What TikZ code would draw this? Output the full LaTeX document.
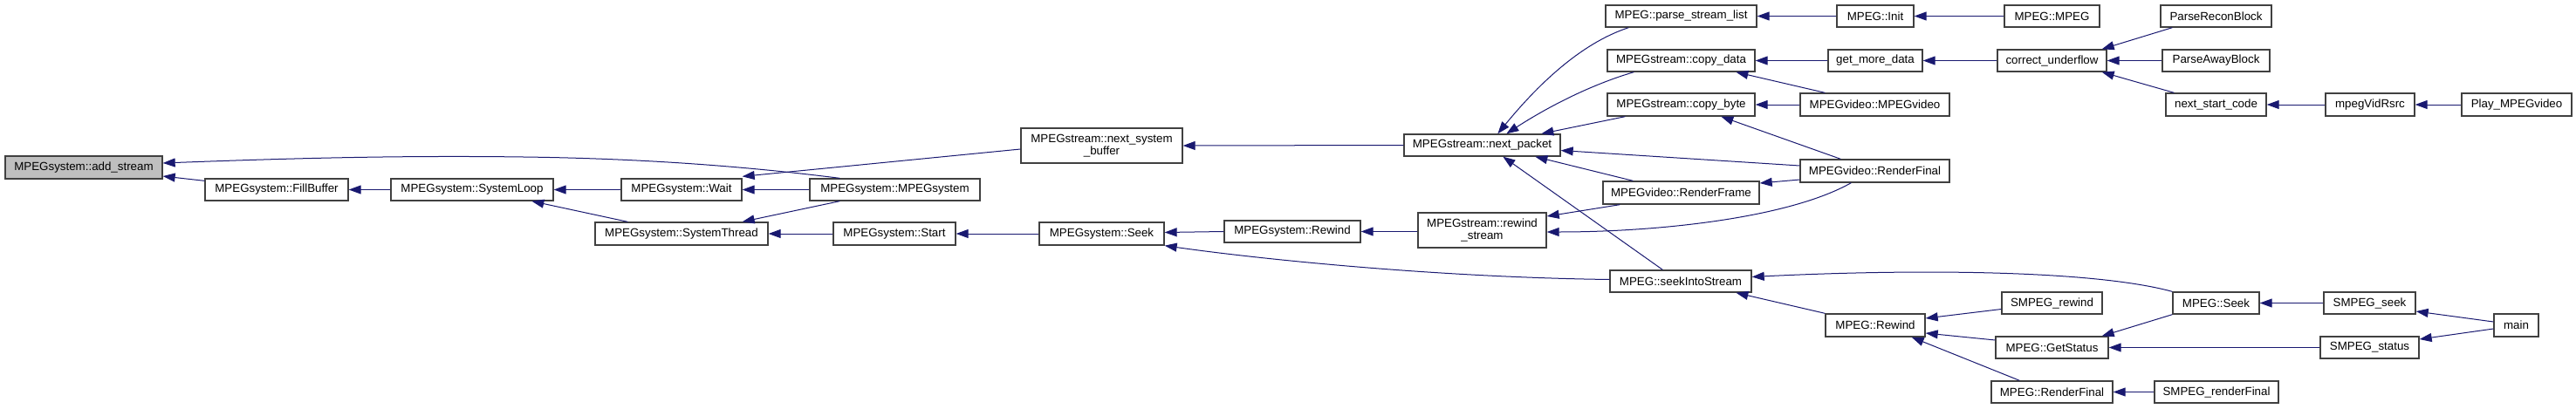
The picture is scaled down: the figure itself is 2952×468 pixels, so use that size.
\documentclass[tikz,border=0pt]{standalone}
\usepackage{fontspec}
\setmainfont{Liberation Sans}
\usetikzlibrary{arrows.meta,calc}
\definecolor{edgec}{HTML}{191970}
\definecolor{boxc}{HTML}{404040}
\newcommand{\cgbox}[7][]{\node[box,#1,minimum width={(#5-#3)*0.75pt},minimum height={(#6-#4)*0.75pt}] (#2) at ({(#3+#5)/2},{(#4+#6)/2}) {#7};}
\begin{document}
\begin{tikzpicture}[x=0.75pt,y=-0.75pt,
  box/.style={draw=boxc,line width=1pt,fill=white,inner sep=0pt,align=center,font=\fontsize{10}{10.5}\selectfont},
  root/.style={fill=black!25},
  cl/.style={draw=edgec,line width=0.75pt,{Triangle[length=10.5pt,width=7.5pt]}-}]
\useasboundingbox (0,0) rectangle (2952,468);
% nodes
\cgbox[root]{addst}{6}{179}{186}{205}{MPEGsystem::add\_stream}
\cgbox{fill}{235}{205}{399}{230}{MPEGsystem::FillBuffer}
\cgbox{sysloop}{448}{205}{634}{230}{MPEGsystem::SystemLoop}
\cgbox{wait}{712}{205}{850}{230}{MPEGsystem::Wait}
\cgbox{msys}{928}{205}{1123}{230}{MPEGsystem::MPEGsystem}
\cgbox{systhr}{682}{255}{880}{281}{MPEGsystem::SystemThread}
\cgbox{start}{955}{255}{1095}{281}{MPEGsystem::Start}
\cgbox{nsb}{1170}{147}{1355}{187}{MPEGstream::next\_system\\\_buffer}
\cgbox{sseek}{1191}{255}{1334}{281}{MPEGsystem::Seek}
\cgbox{srew}{1403}{253}{1559}{278}{MPEGsystem::Rewind}
\cgbox{npk}{1609}{154}{1788}{179}{MPEGstream::next\_packet}
\cgbox{rws}{1625}{244}{1772}{284}{MPEGstream::rewind\\\_stream}
\cgbox{psl}{1840}{6}{2013}{31}{MPEG::parse\_stream\_list}
\cgbox{cpd}{1842}{57}{2011}{82}{MPEGstream::copy\_data}
\cgbox{cpb}{1842}{107}{2011}{133}{MPEGstream::copy\_byte}
\cgbox{rfr}{1837}{208}{2016}{234}{MPEGvideo::RenderFrame}
\cgbox{sis}{1845}{310}{2007}{335}{MPEG::seekIntoStream}
\cgbox{init}{2105}{6}{2193}{31}{MPEG::Init}
\cgbox{mpeg}{2297}{6}{2406}{31}{MPEG::MPEG}
\cgbox{gmd}{2095}{57}{2203}{82}{get\_more\_data}
\cgbox{cuf}{2289}{57}{2414}{82}{correct\_underflow}
\cgbox{mvv}{2063}{107}{2234}{133}{MPEGvideo::MPEGvideo}
\cgbox{vrf}{2063}{183}{2234}{209}{MPEGvideo::RenderFinal}
\cgbox{mrew}{2092}{360}{2206}{386}{MPEG::Rewind}
\cgbox{smrew}{2294}{335}{2409}{360}{SMPEG\_rewind}
\cgbox{gst}{2287}{386}{2416}{411}{MPEG::GetStatus}
\cgbox{mrf}{2282}{437}{2421}{462}{MPEG::RenderFinal}
\cgbox{prb}{2476}{6}{2603}{31}{ParseReconBlock}
\cgbox{pab}{2478}{57}{2601}{82}{ParseAwayBlock}
\cgbox{nsc}{2482}{107}{2597}{133}{next\_start\_code}
\cgbox{mvr}{2665}{107}{2767}{133}{mpegVidRsrc}
\cgbox{play}{2821}{107}{2947}{133}{Play\_MPEGvideo}
\cgbox{mseek}{2490}{335}{2589}{360}{MPEG::Seek}
\cgbox{smseek}{2663}{335}{2768}{360}{SMPEG\_seek}
\cgbox{main}{2858}{360}{2909}{386}{main}
\cgbox{smst}{2659}{386}{2772}{411}{SMPEG\_status}
\cgbox{smrf}{2469}{437}{2611}{462}{SMPEG\_renderFinal}
% edges (callee first, arrowhead at callee)
\draw[cl] ($(addst.east)+(0,-5)$) .. controls (320,182) and (450,178) .. (600,180) .. controls (760,182) and (880,194) .. ($(msys.north west)+(35,0)$);
\draw[cl] ($(addst.east)+(0,10)$) -- ($(fill.north west)+(0,3)$);
\draw[cl] (fill.east) -- (sysloop.west);
\draw[cl] (sysloop.east) -- (wait.west);
\draw[cl] ($(sysloop.south west)+(162,0)$) -- ($(systhr.north west)+(38,0)$);
\draw[cl] (wait.east) -- (msys.west);
\draw[cl] ($(wait.north east)+(0,-2)$) -- ($(nsb.west)+(0,4)$);
\draw[cl] ($(systhr.north east)+(-30,0)$) -- ($(msys.south west)+(35,0)$);
\draw[cl] (systhr.east) -- (start.west);
\draw[cl] (start.east) -- (sseek.west);
\draw[cl] ($(sseek.east)+(0,-1.5)$) -- (srew.west);
\draw[cl] (sseek.south east) .. controls (1450,298) and (1650,318) .. ($(sis.west)+(0,-2)$);
\draw[cl] (srew.east) -- ($(rws.west)+(0,1.5)$);
\draw[cl] (nsb.east) -- (npk.west);
\draw[cl] ($(npk.north west)+(108,0)$) .. controls (1760,100) and (1810,50) .. ($(psl.south west)+(27,0)$);
\draw[cl] ($(npk.north west)+(118,0)$) .. controls (1770,125) and (1820,98) .. ($(cpd.south west)+(31,0)$);
\draw[cl] ($(npk.north west)+(158,0)$) -- ($(cpb.south west)+(21,0)$);
\draw[cl] ($(npk.east)+(0,6)$) -- ($(vrf.west)+(0,-6)$);
\draw[cl] ($(npk.south west)+(151,0)$) -- ($(rfr.north west)+(35,0)$);
\draw[cl] ($(npk.south west)+(114,0)$) -- ($(sis.north west)+(61,0)$);
\draw[cl] ($(rws.east)+(0,-16)$) -- ($(rfr.south west)+(20,0)$);
\draw[cl] ($(rws.east)+(0,2)$) .. controls (1900,266) and (2050,250) .. ($(vrf.south west)+(59,0)$);
\draw[cl] ($(rfr.east)+(0,-11)$) -- ($(vrf.west)+(0,10)$);
\draw[cl] (psl.east) -- (init.west);
\draw[cl] (init.east) -- (mpeg.west);
\draw[cl] (cpd.east) -- (gmd.west);
\draw[cl] ($(cpd.south west)+(148,0)$) -- ($(mvv.north west)+(29,0)$);
\draw[cl] (cpb.east) -- (mvv.west);
\draw[cl] ($(cpb.south west)+(131,0)$) -- ($(vrf.north west)+(47,0)$);
\draw[cl] (gmd.east) -- (cuf.west);
\draw[cl] ($(cuf.north east)+(-6,0)$) -- ($(prb.south west)+(14,0)$);
\draw[cl] (cuf.east) -- (pab.west);
\draw[cl] ($(cuf.south east)+(-6,0)$) -- ($(nsc.north west)+(10,0)$);
\draw[cl] (nsc.east) -- (mvr.west);
\draw[cl] (mvr.east) -- (play.west);
\draw[cl] ($(sis.east)+(0,-5)$) .. controls (2200,308) and (2400,310) .. (mseek.north west);
\draw[cl] ($(sis.south west)+(145,0)$) -- (mrew.north west);
\draw[cl] ($(mrew.east)+(0,-8)$) -- ($(smrew.west)+(0,7)$);
\draw[cl] ($(mrew.east)+(0,9)$) -- ($(gst.west)+(0,-8.5)$);
\draw[cl] ($(mrew.south east)+(-16,0)$) -- ($(mrf.north west)+(33,0)$);
\draw[cl] ($(gst.north east)+(-8,0)$) -- (mseek.south west);
\draw[cl] (gst.east) -- (smst.west);
\draw[cl] (mseek.east) -- (smseek.west);
\draw[cl] (mrf.east) -- (smrf.west);
\draw[cl] ($(smseek.east)+(0,9.5)$) -- ($(main.west)+(0,-4)$);
\draw[cl] ($(smst.east)+(0,-9.5)$) -- ($(main.west)+(0,4)$);
\end{tikzpicture}
\end{document}
